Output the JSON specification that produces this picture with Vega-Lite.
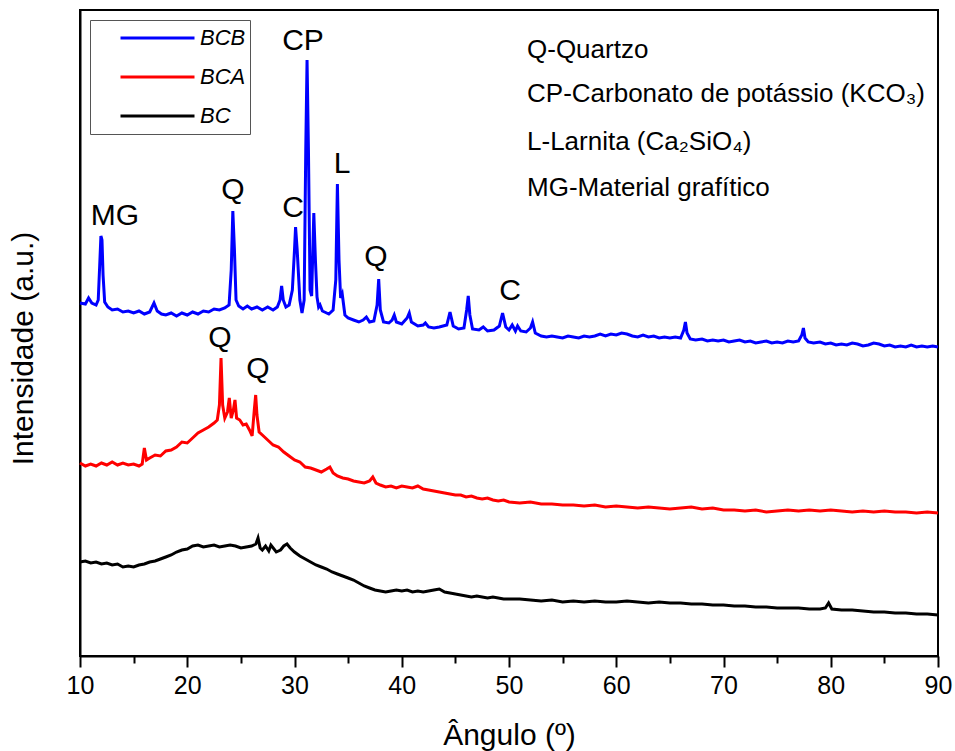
{
  "$schema": "https://vega.github.io/schema/vega-lite/v6.json",
  "width": 858,
  "height": 646,
  "autosize": {"type": "none"},
  "padding": {"left": 80, "top": 10, "right": 17, "bottom": 95},
  "background": "white",
  "config": {
    "font": "Liberation Sans",
    "view": {"stroke": "black", "strokeWidth": 2}
  },
  "datasets": {
    "xrd": [
{"angle":10.0,"intensity":353,"sample":"BCB"},{"angle":10.5,"intensity":352,"sample":"BCB"},{"angle":10.8,"intensity":358,"sample":"BCB"},{"angle":11.1,"intensity":353,"sample":"BCB"},{"angle":11.5,"intensity":351,"sample":"BCB"},{"angle":11.7,"intensity":356,"sample":"BCB"},{"angle":11.85,"intensity":394,"sample":"BCB"},{"angle":11.95,"intensity":420,"sample":"BCB"},{"angle":12.05,"intensity":416,"sample":"BCB"},{"angle":12.15,"intensity":381,"sample":"BCB"},{"angle":12.3,"intensity":354,"sample":"BCB"},{"angle":12.6,"intensity":349,"sample":"BCB"},{"angle":13.0,"intensity":346,"sample":"BCB"},{"angle":13.5,"intensity":347,"sample":"BCB"},{"angle":14.0,"intensity":344,"sample":"BCB"},{"angle":14.5,"intensity":345,"sample":"BCB"},{"angle":15.0,"intensity":343,"sample":"BCB"},{"angle":15.5,"intensity":345,"sample":"BCB"},{"angle":16.0,"intensity":342,"sample":"BCB"},{"angle":16.5,"intensity":344,"sample":"BCB"},{"angle":16.9,"intensity":353,"sample":"BCB"},{"angle":17.2,"intensity":345,"sample":"BCB"},{"angle":17.6,"intensity":342,"sample":"BCB"},{"angle":18.0,"intensity":341,"sample":"BCB"},{"angle":18.5,"intensity":343,"sample":"BCB"},{"angle":19.0,"intensity":340,"sample":"BCB"},{"angle":19.5,"intensity":343,"sample":"BCB"},{"angle":20.0,"intensity":341,"sample":"BCB"},{"angle":20.5,"intensity":344,"sample":"BCB"},{"angle":21.0,"intensity":342,"sample":"BCB"},{"angle":21.5,"intensity":345,"sample":"BCB"},{"angle":22.0,"intensity":344,"sample":"BCB"},{"angle":22.5,"intensity":347,"sample":"BCB"},{"angle":23.0,"intensity":346,"sample":"BCB"},{"angle":23.5,"intensity":348,"sample":"BCB"},{"angle":23.9,"intensity":351,"sample":"BCB"},{"angle":24.1,"intensity":386,"sample":"BCB"},{"angle":24.25,"intensity":445,"sample":"BCB"},{"angle":24.4,"intensity":406,"sample":"BCB"},{"angle":24.55,"intensity":356,"sample":"BCB"},{"angle":24.8,"intensity":350,"sample":"BCB"},{"angle":25.2,"intensity":347,"sample":"BCB"},{"angle":25.6,"intensity":350,"sample":"BCB"},{"angle":26.0,"intensity":347,"sample":"BCB"},{"angle":26.5,"intensity":349,"sample":"BCB"},{"angle":27.0,"intensity":346,"sample":"BCB"},{"angle":27.5,"intensity":349,"sample":"BCB"},{"angle":28.0,"intensity":346,"sample":"BCB"},{"angle":28.4,"intensity":349,"sample":"BCB"},{"angle":28.65,"intensity":356,"sample":"BCB"},{"angle":28.8,"intensity":370,"sample":"BCB"},{"angle":28.95,"intensity":356,"sample":"BCB"},{"angle":29.2,"intensity":349,"sample":"BCB"},{"angle":29.5,"intensity":351,"sample":"BCB"},{"angle":29.8,"intensity":366,"sample":"BCB"},{"angle":30.0,"intensity":406,"sample":"BCB"},{"angle":30.1,"intensity":429,"sample":"BCB"},{"angle":30.25,"intensity":406,"sample":"BCB"},{"angle":30.5,"intensity":356,"sample":"BCB"},{"angle":30.7,"intensity":343,"sample":"BCB"},{"angle":30.9,"intensity":356,"sample":"BCB"},{"angle":31.05,"intensity":506,"sample":"BCB"},{"angle":31.17,"intensity":596,"sample":"BCB"},{"angle":31.3,"intensity":506,"sample":"BCB"},{"angle":31.45,"intensity":366,"sample":"BCB"},{"angle":31.6,"intensity":360,"sample":"BCB"},{"angle":31.8,"intensity":443,"sample":"BCB"},{"angle":31.95,"intensity":396,"sample":"BCB"},{"angle":32.1,"intensity":359,"sample":"BCB"},{"angle":32.25,"intensity":349,"sample":"BCB"},{"angle":32.38,"intensity":351,"sample":"BCB"},{"angle":32.6,"intensity":345,"sample":"BCB"},{"angle":32.8,"intensity":344,"sample":"BCB"},{"angle":33.2,"intensity":342,"sample":"BCB"},{"angle":33.6,"intensity":346,"sample":"BCB"},{"angle":33.85,"intensity":376,"sample":"BCB"},{"angle":34.0,"intensity":472,"sample":"BCB"},{"angle":34.15,"intensity":396,"sample":"BCB"},{"angle":34.3,"intensity":358,"sample":"BCB"},{"angle":34.45,"intensity":362,"sample":"BCB"},{"angle":34.7,"intensity":341,"sample":"BCB"},{"angle":35.0,"intensity":338,"sample":"BCB"},{"angle":35.5,"intensity":336,"sample":"BCB"},{"angle":36.0,"intensity":334,"sample":"BCB"},{"angle":36.4,"intensity":336,"sample":"BCB"},{"angle":36.7,"intensity":339,"sample":"BCB"},{"angle":37.0,"intensity":334,"sample":"BCB"},{"angle":37.4,"intensity":335,"sample":"BCB"},{"angle":37.7,"intensity":351,"sample":"BCB"},{"angle":37.85,"intensity":377,"sample":"BCB"},{"angle":38.0,"intensity":346,"sample":"BCB"},{"angle":38.3,"intensity":334,"sample":"BCB"},{"angle":38.8,"intensity":333,"sample":"BCB"},{"angle":39.1,"intensity":336,"sample":"BCB"},{"angle":39.3,"intensity":341,"sample":"BCB"},{"angle":39.5,"intensity":334,"sample":"BCB"},{"angle":40.0,"intensity":332,"sample":"BCB"},{"angle":40.5,"intensity":338,"sample":"BCB"},{"angle":40.7,"intensity":343,"sample":"BCB"},{"angle":40.9,"intensity":334,"sample":"BCB"},{"angle":41.5,"intensity":330,"sample":"BCB"},{"angle":42.0,"intensity":331,"sample":"BCB"},{"angle":42.2,"intensity":333,"sample":"BCB"},{"angle":42.5,"intensity":329,"sample":"BCB"},{"angle":43.0,"intensity":328,"sample":"BCB"},{"angle":43.5,"intensity":329,"sample":"BCB"},{"angle":44.2,"intensity":331,"sample":"BCB"},{"angle":44.5,"intensity":344,"sample":"BCB"},{"angle":44.8,"intensity":330,"sample":"BCB"},{"angle":45.3,"intensity":327,"sample":"BCB"},{"angle":45.8,"intensity":328,"sample":"BCB"},{"angle":46.05,"intensity":346,"sample":"BCB"},{"angle":46.2,"intensity":360,"sample":"BCB"},{"angle":46.35,"intensity":341,"sample":"BCB"},{"angle":46.6,"intensity":327,"sample":"BCB"},{"angle":47.2,"intensity":326,"sample":"BCB"},{"angle":47.6,"intensity":329,"sample":"BCB"},{"angle":48.0,"intensity":325,"sample":"BCB"},{"angle":48.6,"intensity":326,"sample":"BCB"},{"angle":49.1,"intensity":330,"sample":"BCB"},{"angle":49.4,"intensity":343,"sample":"BCB"},{"angle":49.7,"intensity":329,"sample":"BCB"},{"angle":50.0,"intensity":326,"sample":"BCB"},{"angle":50.3,"intensity":331,"sample":"BCB"},{"angle":50.6,"intensity":325,"sample":"BCB"},{"angle":50.8,"intensity":330,"sample":"BCB"},{"angle":51.1,"intensity":325,"sample":"BCB"},{"angle":51.6,"intensity":324,"sample":"BCB"},{"angle":52.0,"intensity":328,"sample":"BCB"},{"angle":52.2,"intensity":334,"sample":"BCB"},{"angle":52.45,"intensity":323,"sample":"BCB"},{"angle":53.0,"intensity":320,"sample":"BCB"},{"angle":53.5,"intensity":319,"sample":"BCB"},{"angle":54.0,"intensity":320,"sample":"BCB"},{"angle":54.5,"intensity":319,"sample":"BCB"},{"angle":55.0,"intensity":318,"sample":"BCB"},{"angle":55.5,"intensity":320,"sample":"BCB"},{"angle":56.0,"intensity":319,"sample":"BCB"},{"angle":56.5,"intensity":318,"sample":"BCB"},{"angle":57.0,"intensity":320,"sample":"BCB"},{"angle":57.5,"intensity":319,"sample":"BCB"},{"angle":58.0,"intensity":320,"sample":"BCB"},{"angle":58.5,"intensity":322,"sample":"BCB"},{"angle":59.0,"intensity":320,"sample":"BCB"},{"angle":59.5,"intensity":322,"sample":"BCB"},{"angle":60.0,"intensity":321,"sample":"BCB"},{"angle":60.5,"intensity":323,"sample":"BCB"},{"angle":61.0,"intensity":322,"sample":"BCB"},{"angle":61.5,"intensity":320,"sample":"BCB"},{"angle":62.0,"intensity":319,"sample":"BCB"},{"angle":62.5,"intensity":321,"sample":"BCB"},{"angle":63.0,"intensity":319,"sample":"BCB"},{"angle":63.5,"intensity":320,"sample":"BCB"},{"angle":64.0,"intensity":318,"sample":"BCB"},{"angle":64.5,"intensity":319,"sample":"BCB"},{"angle":65.0,"intensity":318,"sample":"BCB"},{"angle":65.5,"intensity":319,"sample":"BCB"},{"angle":66.0,"intensity":318,"sample":"BCB"},{"angle":66.3,"intensity":326,"sample":"BCB"},{"angle":66.45,"intensity":334,"sample":"BCB"},{"angle":66.6,"intensity":323,"sample":"BCB"},{"angle":66.9,"intensity":317,"sample":"BCB"},{"angle":67.4,"intensity":316,"sample":"BCB"},{"angle":68.0,"intensity":317,"sample":"BCB"},{"angle":68.5,"intensity":315,"sample":"BCB"},{"angle":69.0,"intensity":316,"sample":"BCB"},{"angle":69.5,"intensity":315,"sample":"BCB"},{"angle":70.0,"intensity":316,"sample":"BCB"},{"angle":70.5,"intensity":314,"sample":"BCB"},{"angle":71.0,"intensity":315,"sample":"BCB"},{"angle":71.5,"intensity":316,"sample":"BCB"},{"angle":72.0,"intensity":314,"sample":"BCB"},{"angle":72.5,"intensity":315,"sample":"BCB"},{"angle":73.0,"intensity":313,"sample":"BCB"},{"angle":73.5,"intensity":314,"sample":"BCB"},{"angle":74.0,"intensity":315,"sample":"BCB"},{"angle":74.5,"intensity":313,"sample":"BCB"},{"angle":75.0,"intensity":314,"sample":"BCB"},{"angle":75.5,"intensity":313,"sample":"BCB"},{"angle":76.0,"intensity":315,"sample":"BCB"},{"angle":76.5,"intensity":314,"sample":"BCB"},{"angle":77.0,"intensity":315,"sample":"BCB"},{"angle":77.3,"intensity":321,"sample":"BCB"},{"angle":77.45,"intensity":328,"sample":"BCB"},{"angle":77.6,"intensity":318,"sample":"BCB"},{"angle":77.9,"intensity":314,"sample":"BCB"},{"angle":78.4,"intensity":313,"sample":"BCB"},{"angle":79.0,"intensity":314,"sample":"BCB"},{"angle":79.5,"intensity":312,"sample":"BCB"},{"angle":80.0,"intensity":313,"sample":"BCB"},{"angle":80.5,"intensity":311,"sample":"BCB"},{"angle":81.0,"intensity":312,"sample":"BCB"},{"angle":81.5,"intensity":311,"sample":"BCB"},{"angle":82.0,"intensity":313,"sample":"BCB"},{"angle":82.5,"intensity":312,"sample":"BCB"},{"angle":83.0,"intensity":310,"sample":"BCB"},{"angle":83.5,"intensity":311,"sample":"BCB"},{"angle":84.0,"intensity":313,"sample":"BCB"},{"angle":84.5,"intensity":312,"sample":"BCB"},{"angle":85.0,"intensity":310,"sample":"BCB"},{"angle":85.5,"intensity":311,"sample":"BCB"},{"angle":86.0,"intensity":309,"sample":"BCB"},{"angle":86.5,"intensity":310,"sample":"BCB"},{"angle":87.0,"intensity":309,"sample":"BCB"},{"angle":87.5,"intensity":311,"sample":"BCB"},{"angle":88.0,"intensity":309,"sample":"BCB"},{"angle":88.5,"intensity":310,"sample":"BCB"},{"angle":89.0,"intensity":309,"sample":"BCB"},{"angle":89.5,"intensity":310,"sample":"BCB"},{"angle":90.0,"intensity":309,"sample":"BCB"},
{"angle":10.0,"intensity":193,"sample":"BCA"},{"angle":10.5,"intensity":190,"sample":"BCA"},{"angle":11.0,"intensity":192,"sample":"BCA"},{"angle":11.5,"intensity":190,"sample":"BCA"},{"angle":12.0,"intensity":193,"sample":"BCA"},{"angle":12.5,"intensity":191,"sample":"BCA"},{"angle":13.0,"intensity":194,"sample":"BCA"},{"angle":13.5,"intensity":191,"sample":"BCA"},{"angle":14.0,"intensity":193,"sample":"BCA"},{"angle":14.5,"intensity":191,"sample":"BCA"},{"angle":15.0,"intensity":192,"sample":"BCA"},{"angle":15.5,"intensity":190,"sample":"BCA"},{"angle":15.8,"intensity":192,"sample":"BCA"},{"angle":16.0,"intensity":208,"sample":"BCA"},{"angle":16.2,"intensity":196,"sample":"BCA"},{"angle":16.5,"intensity":198,"sample":"BCA"},{"angle":17.0,"intensity":201,"sample":"BCA"},{"angle":17.5,"intensity":200,"sample":"BCA"},{"angle":18.0,"intensity":205,"sample":"BCA"},{"angle":18.5,"intensity":206,"sample":"BCA"},{"angle":19.0,"intensity":209,"sample":"BCA"},{"angle":19.5,"intensity":214,"sample":"BCA"},{"angle":20.0,"intensity":213,"sample":"BCA"},{"angle":20.5,"intensity":218,"sample":"BCA"},{"angle":21.0,"intensity":223,"sample":"BCA"},{"angle":21.5,"intensity":226,"sample":"BCA"},{"angle":22.0,"intensity":229,"sample":"BCA"},{"angle":22.5,"intensity":233,"sample":"BCA"},{"angle":22.8,"intensity":236,"sample":"BCA"},{"angle":23.0,"intensity":251,"sample":"BCA"},{"angle":23.15,"intensity":298,"sample":"BCA"},{"angle":23.3,"intensity":251,"sample":"BCA"},{"angle":23.5,"intensity":238,"sample":"BCA"},{"angle":23.75,"intensity":244,"sample":"BCA"},{"angle":23.92,"intensity":258,"sample":"BCA"},{"angle":24.1,"intensity":238,"sample":"BCA"},{"angle":24.3,"intensity":246,"sample":"BCA"},{"angle":24.45,"intensity":256,"sample":"BCA"},{"angle":24.6,"intensity":238,"sample":"BCA"},{"angle":24.9,"intensity":236,"sample":"BCA"},{"angle":25.2,"intensity":231,"sample":"BCA"},{"angle":25.5,"intensity":232,"sample":"BCA"},{"angle":25.8,"intensity":226,"sample":"BCA"},{"angle":26.05,"intensity":220,"sample":"BCA"},{"angle":26.25,"intensity":246,"sample":"BCA"},{"angle":26.38,"intensity":261,"sample":"BCA"},{"angle":26.5,"intensity":241,"sample":"BCA"},{"angle":26.7,"intensity":224,"sample":"BCA"},{"angle":27.0,"intensity":221,"sample":"BCA"},{"angle":27.5,"intensity":216,"sample":"BCA"},{"angle":28.0,"intensity":211,"sample":"BCA"},{"angle":28.5,"intensity":209,"sample":"BCA"},{"angle":29.0,"intensity":204,"sample":"BCA"},{"angle":29.5,"intensity":200,"sample":"BCA"},{"angle":30.0,"intensity":196,"sample":"BCA"},{"angle":30.5,"intensity":194,"sample":"BCA"},{"angle":31.0,"intensity":189,"sample":"BCA"},{"angle":31.5,"intensity":188,"sample":"BCA"},{"angle":32.0,"intensity":186,"sample":"BCA"},{"angle":32.5,"intensity":184,"sample":"BCA"},{"angle":33.0,"intensity":187,"sample":"BCA"},{"angle":33.3,"intensity":189,"sample":"BCA"},{"angle":33.6,"intensity":183,"sample":"BCA"},{"angle":34.0,"intensity":180,"sample":"BCA"},{"angle":34.5,"intensity":178,"sample":"BCA"},{"angle":35.0,"intensity":177,"sample":"BCA"},{"angle":35.5,"intensity":175,"sample":"BCA"},{"angle":36.0,"intensity":174,"sample":"BCA"},{"angle":36.5,"intensity":173,"sample":"BCA"},{"angle":37.0,"intensity":175,"sample":"BCA"},{"angle":37.3,"intensity":179,"sample":"BCA"},{"angle":37.6,"intensity":173,"sample":"BCA"},{"angle":38.0,"intensity":171,"sample":"BCA"},{"angle":38.5,"intensity":169,"sample":"BCA"},{"angle":39.0,"intensity":170,"sample":"BCA"},{"angle":39.5,"intensity":168,"sample":"BCA"},{"angle":40.0,"intensity":170,"sample":"BCA"},{"angle":40.5,"intensity":169,"sample":"BCA"},{"angle":41.0,"intensity":168,"sample":"BCA"},{"angle":41.5,"intensity":170,"sample":"BCA"},{"angle":42.0,"intensity":167,"sample":"BCA"},{"angle":42.5,"intensity":166,"sample":"BCA"},{"angle":43.0,"intensity":165,"sample":"BCA"},{"angle":43.5,"intensity":164,"sample":"BCA"},{"angle":44.0,"intensity":163,"sample":"BCA"},{"angle":44.5,"intensity":162,"sample":"BCA"},{"angle":45.0,"intensity":161,"sample":"BCA"},{"angle":45.5,"intensity":161,"sample":"BCA"},{"angle":46.0,"intensity":159,"sample":"BCA"},{"angle":46.5,"intensity":160,"sample":"BCA"},{"angle":47.0,"intensity":158,"sample":"BCA"},{"angle":47.5,"intensity":157,"sample":"BCA"},{"angle":48.0,"intensity":158,"sample":"BCA"},{"angle":48.5,"intensity":156,"sample":"BCA"},{"angle":49.0,"intensity":155,"sample":"BCA"},{"angle":49.5,"intensity":156,"sample":"BCA"},{"angle":50.0,"intensity":154,"sample":"BCA"},{"angle":51.0,"intensity":153,"sample":"BCA"},{"angle":52.0,"intensity":154,"sample":"BCA"},{"angle":53.0,"intensity":152,"sample":"BCA"},{"angle":54.0,"intensity":152,"sample":"BCA"},{"angle":55.0,"intensity":151,"sample":"BCA"},{"angle":56.0,"intensity":151,"sample":"BCA"},{"angle":57.0,"intensity":150,"sample":"BCA"},{"angle":58.0,"intensity":151,"sample":"BCA"},{"angle":59.0,"intensity":149,"sample":"BCA"},{"angle":60.0,"intensity":150,"sample":"BCA"},{"angle":61.0,"intensity":149,"sample":"BCA"},{"angle":62.0,"intensity":148,"sample":"BCA"},{"angle":63.0,"intensity":149,"sample":"BCA"},{"angle":64.0,"intensity":148,"sample":"BCA"},{"angle":65.0,"intensity":147,"sample":"BCA"},{"angle":66.0,"intensity":148,"sample":"BCA"},{"angle":67.0,"intensity":149,"sample":"BCA"},{"angle":68.0,"intensity":147,"sample":"BCA"},{"angle":69.0,"intensity":148,"sample":"BCA"},{"angle":70.0,"intensity":146,"sample":"BCA"},{"angle":71.0,"intensity":146,"sample":"BCA"},{"angle":72.0,"intensity":145,"sample":"BCA"},{"angle":73.0,"intensity":146,"sample":"BCA"},{"angle":74.0,"intensity":144,"sample":"BCA"},{"angle":75.0,"intensity":145,"sample":"BCA"},{"angle":76.0,"intensity":146,"sample":"BCA"},{"angle":77.0,"intensity":145,"sample":"BCA"},{"angle":78.0,"intensity":146,"sample":"BCA"},{"angle":79.0,"intensity":145,"sample":"BCA"},{"angle":80.0,"intensity":146,"sample":"BCA"},{"angle":81.0,"intensity":145,"sample":"BCA"},{"angle":82.0,"intensity":144,"sample":"BCA"},{"angle":83.0,"intensity":145,"sample":"BCA"},{"angle":84.0,"intensity":144,"sample":"BCA"},{"angle":85.0,"intensity":145,"sample":"BCA"},{"angle":86.0,"intensity":144,"sample":"BCA"},{"angle":87.0,"intensity":144,"sample":"BCA"},{"angle":88.0,"intensity":143,"sample":"BCA"},{"angle":89.0,"intensity":144,"sample":"BCA"},{"angle":90.0,"intensity":143,"sample":"BCA"},
{"angle":10.0,"intensity":94,"sample":"BC"},{"angle":10.5,"intensity":95,"sample":"BC"},{"angle":11.0,"intensity":93,"sample":"BC"},{"angle":11.5,"intensity":94,"sample":"BC"},{"angle":12.0,"intensity":92,"sample":"BC"},{"angle":12.5,"intensity":93,"sample":"BC"},{"angle":13.0,"intensity":91,"sample":"BC"},{"angle":13.5,"intensity":92,"sample":"BC"},{"angle":14.0,"intensity":89,"sample":"BC"},{"angle":14.5,"intensity":90,"sample":"BC"},{"angle":15.0,"intensity":89,"sample":"BC"},{"angle":15.5,"intensity":91,"sample":"BC"},{"angle":16.0,"intensity":92,"sample":"BC"},{"angle":16.5,"intensity":94,"sample":"BC"},{"angle":17.0,"intensity":95,"sample":"BC"},{"angle":17.5,"intensity":97,"sample":"BC"},{"angle":18.0,"intensity":99,"sample":"BC"},{"angle":18.5,"intensity":101,"sample":"BC"},{"angle":19.0,"intensity":104,"sample":"BC"},{"angle":19.5,"intensity":106,"sample":"BC"},{"angle":20.0,"intensity":107,"sample":"BC"},{"angle":20.5,"intensity":110,"sample":"BC"},{"angle":21.0,"intensity":111,"sample":"BC"},{"angle":21.5,"intensity":109,"sample":"BC"},{"angle":22.0,"intensity":110,"sample":"BC"},{"angle":22.5,"intensity":111,"sample":"BC"},{"angle":23.0,"intensity":109,"sample":"BC"},{"angle":23.5,"intensity":110,"sample":"BC"},{"angle":24.0,"intensity":111,"sample":"BC"},{"angle":24.5,"intensity":110,"sample":"BC"},{"angle":25.0,"intensity":108,"sample":"BC"},{"angle":25.5,"intensity":109,"sample":"BC"},{"angle":26.0,"intensity":110,"sample":"BC"},{"angle":26.4,"intensity":112,"sample":"BC"},{"angle":26.6,"intensity":118,"sample":"BC"},{"angle":26.8,"intensity":108,"sample":"BC"},{"angle":27.0,"intensity":106,"sample":"BC"},{"angle":27.3,"intensity":110,"sample":"BC"},{"angle":27.6,"intensity":105,"sample":"BC"},{"angle":27.8,"intensity":111,"sample":"BC"},{"angle":28.3,"intensity":104,"sample":"BC"},{"angle":28.7,"intensity":106,"sample":"BC"},{"angle":29.0,"intensity":110,"sample":"BC"},{"angle":29.3,"intensity":112,"sample":"BC"},{"angle":29.6,"intensity":108,"sample":"BC"},{"angle":30.0,"intensity":104,"sample":"BC"},{"angle":30.5,"intensity":100,"sample":"BC"},{"angle":31.0,"intensity":97,"sample":"BC"},{"angle":31.5,"intensity":94,"sample":"BC"},{"angle":32.0,"intensity":91,"sample":"BC"},{"angle":32.5,"intensity":89,"sample":"BC"},{"angle":33.0,"intensity":87,"sample":"BC"},{"angle":33.5,"intensity":84,"sample":"BC"},{"angle":34.0,"intensity":82,"sample":"BC"},{"angle":34.5,"intensity":80,"sample":"BC"},{"angle":35.0,"intensity":78,"sample":"BC"},{"angle":35.5,"intensity":76,"sample":"BC"},{"angle":36.0,"intensity":73,"sample":"BC"},{"angle":36.5,"intensity":70,"sample":"BC"},{"angle":37.0,"intensity":68,"sample":"BC"},{"angle":37.5,"intensity":66,"sample":"BC"},{"angle":38.0,"intensity":65,"sample":"BC"},{"angle":38.5,"intensity":64,"sample":"BC"},{"angle":39.0,"intensity":65,"sample":"BC"},{"angle":39.5,"intensity":66,"sample":"BC"},{"angle":40.0,"intensity":65,"sample":"BC"},{"angle":40.5,"intensity":66,"sample":"BC"},{"angle":41.0,"intensity":64,"sample":"BC"},{"angle":41.5,"intensity":65,"sample":"BC"},{"angle":42.0,"intensity":64,"sample":"BC"},{"angle":42.5,"intensity":65,"sample":"BC"},{"angle":43.0,"intensity":66,"sample":"BC"},{"angle":43.5,"intensity":67,"sample":"BC"},{"angle":44.0,"intensity":64,"sample":"BC"},{"angle":44.5,"intensity":63,"sample":"BC"},{"angle":45.0,"intensity":62,"sample":"BC"},{"angle":45.5,"intensity":61,"sample":"BC"},{"angle":46.0,"intensity":60,"sample":"BC"},{"angle":46.5,"intensity":59,"sample":"BC"},{"angle":47.0,"intensity":60,"sample":"BC"},{"angle":47.5,"intensity":59,"sample":"BC"},{"angle":48.0,"intensity":58,"sample":"BC"},{"angle":48.5,"intensity":59,"sample":"BC"},{"angle":49.0,"intensity":58,"sample":"BC"},{"angle":49.5,"intensity":57,"sample":"BC"},{"angle":50.0,"intensity":57,"sample":"BC"},{"angle":51.0,"intensity":57,"sample":"BC"},{"angle":52.0,"intensity":56,"sample":"BC"},{"angle":53.0,"intensity":55,"sample":"BC"},{"angle":54.0,"intensity":56,"sample":"BC"},{"angle":55.0,"intensity":54,"sample":"BC"},{"angle":56.0,"intensity":55,"sample":"BC"},{"angle":57.0,"intensity":54,"sample":"BC"},{"angle":58.0,"intensity":55,"sample":"BC"},{"angle":59.0,"intensity":54,"sample":"BC"},{"angle":60.0,"intensity":54,"sample":"BC"},{"angle":61.0,"intensity":55,"sample":"BC"},{"angle":62.0,"intensity":54,"sample":"BC"},{"angle":63.0,"intensity":53,"sample":"BC"},{"angle":64.0,"intensity":54,"sample":"BC"},{"angle":65.0,"intensity":53,"sample":"BC"},{"angle":66.0,"intensity":53,"sample":"BC"},{"angle":67.0,"intensity":52,"sample":"BC"},{"angle":68.0,"intensity":52,"sample":"BC"},{"angle":69.0,"intensity":51,"sample":"BC"},{"angle":70.0,"intensity":51,"sample":"BC"},{"angle":71.0,"intensity":50,"sample":"BC"},{"angle":72.0,"intensity":50,"sample":"BC"},{"angle":73.0,"intensity":49,"sample":"BC"},{"angle":74.0,"intensity":49,"sample":"BC"},{"angle":75.0,"intensity":48,"sample":"BC"},{"angle":76.0,"intensity":48,"sample":"BC"},{"angle":77.0,"intensity":48,"sample":"BC"},{"angle":78.0,"intensity":47,"sample":"BC"},{"angle":79.0,"intensity":47,"sample":"BC"},{"angle":79.5,"intensity":48,"sample":"BC"},{"angle":79.8,"intensity":53,"sample":"BC"},{"angle":80.1,"intensity":47,"sample":"BC"},{"angle":81.0,"intensity":46,"sample":"BC"},{"angle":82.0,"intensity":46,"sample":"BC"},{"angle":83.0,"intensity":45,"sample":"BC"},{"angle":84.0,"intensity":44,"sample":"BC"},{"angle":85.0,"intensity":44,"sample":"BC"},{"angle":86.0,"intensity":43,"sample":"BC"},{"angle":87.0,"intensity":43,"sample":"BC"},{"angle":88.0,"intensity":42,"sample":"BC"},{"angle":89.0,"intensity":42,"sample":"BC"},{"angle":90.0,"intensity":41,"sample":"BC"}
    ],
    "peaks": [
      {"angle": 13.26, "intensity": 431, "label": "MG"},
      {"angle": 24.27, "intensity": 457, "label": "Q"},
      {"angle": 29.86, "intensity": 439, "label": "C"},
      {"angle": 30.79, "intensity": 606, "label": "CP"},
      {"angle": 34.43, "intensity": 483, "label": "L"},
      {"angle": 37.6, "intensity": 390, "label": "Q"},
      {"angle": 50.09, "intensity": 356, "label": "C"},
      {"angle": 23.05, "intensity": 309, "label": "Q"},
      {"angle": 26.6, "intensity": 278, "label": "Q"}
    ],
    "notes": [
      {"angle": 51.68, "intensity": 598, "label": "Q-Quartzo"},
      {"angle": 51.68, "intensity": 554, "label": "CP-Carbonato de potássio (KCO₃)"},
      {"angle": 51.68, "intensity": 506, "label": "L-Larnita (Ca₂SiO₄)"},
      {"angle": 51.68, "intensity": 460, "label": "MG-Material grafítico"}
    ]
  },
  "layer": [
    {
      "data": {"name": "xrd"},
      "mark": {"type": "line", "strokeWidth": 3, "interpolate": "linear"},
      "encoding": {
        "x": {
          "field": "angle", "type": "quantitative",
          "scale": {"domain": [10, 90], "nice": false, "zero": false},
          "axis": {
            "orient": "bottom",
            "values": [10, 15, 20, 25, 30, 35, 40, 45, 50, 55, 60, 65, 70, 75, 80, 85, 90],
            "labelExpr": "datum.value % 10 === 0 ? datum.label : ''",
            "grid": false,
            "tickSize": {"condition": {"test": "datum.value % 10 === 0", "value": 11}, "value": 7},
            "tickWidth": 2, "tickColor": "black",
            "domainColor": "black", "domainWidth": 2,
            "labelFontSize": 25, "labelColor": "black", "labelPadding": 6, "labelFlush": false,
            "title": "Ângulo (º)", "titleFontSize": 30, "titleFontWeight": "normal", "titleColor": "black",
            "titleY": 88, "titleBaseline": "alphabetic"
          }
        },
        "y": {
          "field": "intensity", "type": "quantitative",
          "scale": {"domain": [0, 646], "nice": false, "zero": false},
          "axis": {
            "grid": false, "ticks": false, "labels": false,
            "domainColor": "black", "domainWidth": 2,
            "title": "Intensidade (a.u.)", "titleFontSize": 30, "titleFontWeight": "normal", "titleColor": "black",
            "titleAngle": -90, "titleX": -48, "titleY": 338, "titleAlign": "center", "titleBaseline": "alphabetic"
          }
        },
        "color": {
          "field": "sample", "type": "nominal",
          "scale": {"domain": ["BCB", "BCA", "BC"], "range": ["#0000ff", "#ff0000", "#000000"]},
          "legend": {
            "orient": "none", "legendX": 10, "legendY": 10, "title": null,
            "symbolType": "stroke", "symbolSize": 5476, "symbolStrokeWidth": 3,
            "symbolOffset": 25, "clipHeight": 28,
            "labelFontSize": 22, "labelFontStyle": "italic", "labelColor": "black", "labelOffset": 4,
            "strokeColor": "#555555", "padding": 4, "rowPadding": 11
          }
        }
      }
    },
    {
      "data": {"name": "peaks"},
      "mark": {"type": "text", "fontSize": 30, "align": "center", "baseline": "alphabetic", "color": "black"},
      "encoding": {
        "x": {"field": "angle", "type": "quantitative"},
        "y": {"field": "intensity", "type": "quantitative"},
        "text": {"field": "label"}
      }
    },
    {
      "data": {"name": "notes"},
      "mark": {"type": "text", "fontSize": 26, "align": "left", "baseline": "alphabetic", "color": "black"},
      "encoding": {
        "x": {"field": "angle", "type": "quantitative"},
        "y": {"field": "intensity", "type": "quantitative"},
        "text": {"field": "label"}
      }
    }
  ]
}
